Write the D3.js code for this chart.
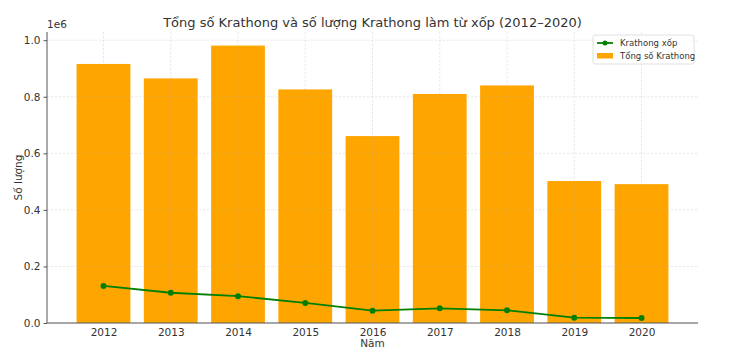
<!DOCTYPE html>
<html><head><meta charset="utf-8">
<script src="https://cdn.jsdelivr.net/npm/d3@7"></script>
<style>body{margin:0;background:#fff}svg{display:block}text{font-family:"DejaVu Sans",sans-serif}</style>
</head><body><svg id="c" width="730" height="358"></svg>
<script>
const years = ["2012","2013","2014","2015","2016","2017","2018","2019","2020"];
const totalKrathong = [916000, 865000, 981000, 826000, 661000, 810000, 840000, 502000, 491000];
const foamKrathong = [131000, 107000, 95000, 71000, 43500, 52000, 45000, 19000, 17700];
const yTicks = [0, 0.2e6, 0.4e6, 0.6e6, 0.8e6, 1.0e6];
const title = "Tổng số Krathong và số lượng Krathong làm từ xốp (2012–2020)";

const svg = d3.select("#c");
const L = 47, R = 698, T = 32, B = 323;
const y = d3.scaleLinear().domain([0, 1.029e6]).range([B, T]);
const xi = d3.scaleLinear().domain([-0.84, years.length - 1 + 0.84]).range([L, R]);
const bw = xi(0.4) - xi(-0.4);

// bars
svg.append("g").selectAll("rect").data(totalKrathong).join("rect")
  .attr("x", (d,i) => xi(i) - bw/2).attr("width", bw)
  .attr("y", d => y(d)).attr("height", d => B - y(d))
  .attr("fill", "#FFA500");

// grid
const grid = svg.append("g").attr("stroke", "#b0b0b0").attr("stroke-opacity", 0.35)
  .attr("stroke-dasharray", "2.5,1.5").attr("stroke-width", 0.8);
grid.selectAll("line.h").data(yTicks).join("line").attr("class","h")
  .attr("x1", L).attr("x2", R).attr("y1", d => y(d)).attr("y2", d => y(d));
grid.selectAll("line.v").data(years).join("line").attr("class","v")
  .attr("x1", (d,i) => xi(i)).attr("x2", (d,i) => xi(i)).attr("y1", T).attr("y2", B);

// line
const line = d3.line().x((d,i) => xi(i)).y(d => y(d));
svg.append("path").datum(foamKrathong).attr("d", line)
  .attr("fill", "none").attr("stroke", "#008000").attr("stroke-width", 1.8);
svg.append("g").selectAll("circle").data(foamKrathong).join("circle")
  .attr("cx", (d,i) => xi(i)).attr("cy", d => y(d)).attr("r", 3).attr("fill", "#008000");

// axes
const yAxis = d3.axisLeft(y).tickValues(yTicks).tickFormat(d => (d/1e6).toFixed(1)).tickSize(3.5).tickPadding(3);
const gy = svg.append("g").attr("transform", `translate(${L},0)`).call(yAxis);
gy.select(".domain").attr("d", `M0,${T}V${B}`);
const xAxis = d3.axisBottom(xi).tickValues(d3.range(years.length)).tickFormat(i => years[i]).tickSize(0).tickPadding(6);
const gx = svg.append("g").attr("transform", `translate(0,${B})`).call(xAxis);
gx.select(".domain").attr("d", `M${L},0H${R}`);
[gx, gy].forEach(g => {
  g.select(".domain").attr("stroke", "#555").attr("stroke-width", 1);
  g.selectAll(".tick line").attr("stroke", "#555");
  g.selectAll(".tick text").attr("fill", "#333").style("font-size", "10.5px").style("font-family", "DejaVu Sans");
});

svg.append("text").attr("x", 47).attr("y", 28).attr("fill", "#333").style("font-size", "10.5px").text("1e6");
svg.append("text").attr("x", (L+R)/2).attr("y", 27).attr("text-anchor", "middle")
  .attr("fill", "#333").style("font-size", "13px").text(title);
svg.append("text").attr("x", (L+R)/2).attr("y", 347).attr("text-anchor", "middle")
  .attr("fill", "#333").style("font-size", "10.5px").text("Năm");
svg.append("text").attr("transform", `translate(22,${(T+B)/2}) rotate(-90)`).attr("text-anchor", "middle")
  .attr("fill", "#333").style("font-size", "10.5px").text("Số lượng");

// legend
const lg = svg.append("g").attr("transform", "translate(593,35)");
lg.append("rect").attr("width", 101).attr("height", 29).attr("rx", 2)
  .attr("fill", "#fff").attr("fill-opacity", 0.8).attr("stroke", "#d8d8d8").attr("stroke-width", 0.8);
lg.append("line").attr("x1", 4).attr("x2", 20).attr("y1", 8).attr("y2", 8).attr("stroke", "#008000").attr("stroke-width", 1.8);
lg.append("circle").attr("cx", 12).attr("cy", 8).attr("r", 2.5).attr("fill", "#008000");
lg.append("rect").attr("x", 4).attr("y", 18).attr("width", 16).attr("height", 5.5).attr("fill", "#FFA500");
lg.append("text").attr("x", 27).attr("y", 11).attr("fill", "#333").style("font-size", "8.5px").text("Krathong xốp");
lg.append("text").attr("x", 27).attr("y", 24).attr("fill", "#333").style("font-size", "8.5px").text("Tổng số Krathong");
</script></body></html>
